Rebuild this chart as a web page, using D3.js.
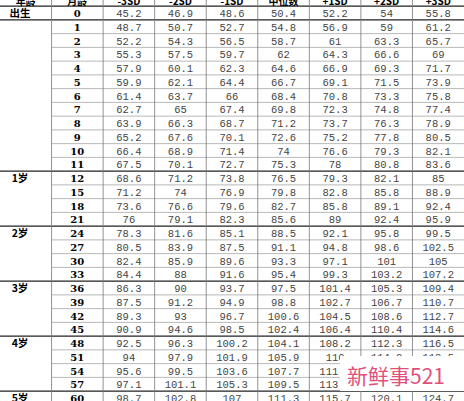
<!DOCTYPE html>
<html><head><meta charset="utf-8">
<script src="https://cdn.jsdelivr.net/npm/d3@7"></script>
<style>body{margin:0;background:#fff}</style></head>
<body><svg id="c" width="464" height="401"></svg>
<script>
const headers = ["年龄", "月龄", "-3SD", "-2SD", "-1SD", "中位数", "+1SD", "+2SD", "+3SD"];
const months = [0,1,2,3,4,5,6,7,8,9,10,11,12,15,18,21,24,27,30,33,36,39,42,45,48,51,54,57,60];
const ageLabels = {0: "出生", 12: "1岁", 24: "2岁", 36: "3岁", 48: "4岁", 60: "5岁"};
const sdM3 = [45.2,48.7,52.2,55.3,57.9,59.9,61.4,62.7,63.9,65.2,66.4,67.5,68.6,71.2,73.6,76,78.3,80.5,82.4,84.4,86.3,87.5,89.3,90.9,92.5,94,95.6,97.1,98.7];
const sdM2 = [46.9,50.7,54.3,57.5,60.1,62.1,63.7,65,66.3,67.6,68.9,70.1,71.2,74,76.6,79.1,81.6,83.9,85.9,88,90,91.2,93,94.6,96.3,97.9,99.5,101.1,102.8];
const sdM1 = [48.6,52.7,56.5,59.7,62.3,64.4,66,67.4,68.7,70.1,71.4,72.7,73.8,76.9,79.6,82.3,85.1,87.5,89.6,91.6,93.7,94.9,96.7,98.5,100.2,101.9,103.6,105.3,107];
const median = [50.4,54.8,58.7,62,64.6,66.7,68.4,69.8,71.2,72.6,74,75.3,76.5,79.8,82.7,85.6,88.5,91.1,93.3,95.4,97.5,98.8,100.6,102.4,104.1,105.9,107.7,109.5,111.3];
const sdP1 = [52.2,56.9,61,64.3,66.9,69.1,70.8,72.3,73.7,75.2,76.6,78,79.3,82.8,85.8,89,92.1,94.8,97.1,99.3,101.4,102.7,104.5,106.4,108.2,110,111.9,113.8,115.7];
const sdP2 = [54,59,63.3,66.6,69.3,71.5,73.3,74.8,76.3,77.8,79.3,80.8,82.1,85.8,89.1,92.4,95.8,98.6,101,103.2,105.3,106.7,108.6,110.4,112.3,114.2,116.2,118.2,120.1];
const sdP3 = [55.8,61.2,65.7,69,71.7,73.9,75.8,77.4,78.9,80.5,82.1,83.6,85,88.9,92.4,95.9,99.5,102.5,105,107.2,109.4,110.7,112.7,114.6,116.5,118.5,120.6,122.6,124.7];
const series = [sdM3, sdM2, sdM1, median, sdP1, sdP2, sdP3];

const svg = d3.select("#c");
const x = d3.scaleBand().domain(d3.range(9)).range([0, 464]);
const y = d3.scaleLinear().domain([0, 28]).range([13, 398]);
const rh = 13.75;

// grid
const g = svg.append("g");
months.forEach((m, i) => {
  const yb = y(i) - rh / 2;
  const thick = m in ageLabels || m === 1;
  g.append("line").attr("x1", thick ? 0 : 52).attr("x2", 464).attr("y1", yb).attr("y2", yb)
    .attr("stroke", thick ? "#222" : "#999").attr("stroke-width", thick ? 1.2 : 0.7);
});
d3.range(1, 9).forEach(c => {
  g.append("line").attr("x1", x(c)).attr("x2", x(c)).attr("y1", -10).attr("y2", 401)
    .attr("stroke", "#777").attr("stroke-width", 0.8);
});

svg.selectAll(".h").data(headers).join("text")
  .attr("x", (d, i) => x(i) + x.bandwidth() / 2).attr("y", 5)
  .attr("text-anchor", "middle").attr("font-family", "Noto Sans CJK SC, sans-serif")
  .attr("font-weight", "bold").attr("font-size", 10).text(d => d);

months.forEach((m, i) => {
  const cy = y(i) + 4;
  if (ageLabels[m]) svg.append("text").attr("x", 20).attr("y", cy).attr("text-anchor", "middle")
    .attr("font-family", "Noto Sans CJK SC, sans-serif").attr("font-weight", "bold").attr("font-size", 10.5).text(ageLabels[m]);
  svg.append("text").attr("x", x(1) + x.bandwidth() / 2).attr("y", cy).attr("text-anchor", "middle")
    .attr("font-family", "DejaVu Serif, serif").attr("font-weight", "bold").attr("font-size", 10).text(m);
  series.forEach((s, j) => {
    svg.append("text").attr("x", x(j + 2) + x.bandwidth() / 2).attr("y", cy).attr("text-anchor", "middle")
      .attr("font-family", "Liberation Mono, monospace").attr("font-size", 10.5).attr("fill", "#444").text(s[i]);
  });
});

// watermark
svg.append("rect").attr("x", 340).attr("y", 356).attr("width", 124).attr("height", 35).attr("fill", "#fff");
svg.append("text").attr("x", 347).attr("y", 384).attr("font-family", "Noto Sans CJK SC, sans-serif")
  .attr("font-size", 21).attr("fill", "#e0507a").text("新鲜事521");
</script></body></html>
